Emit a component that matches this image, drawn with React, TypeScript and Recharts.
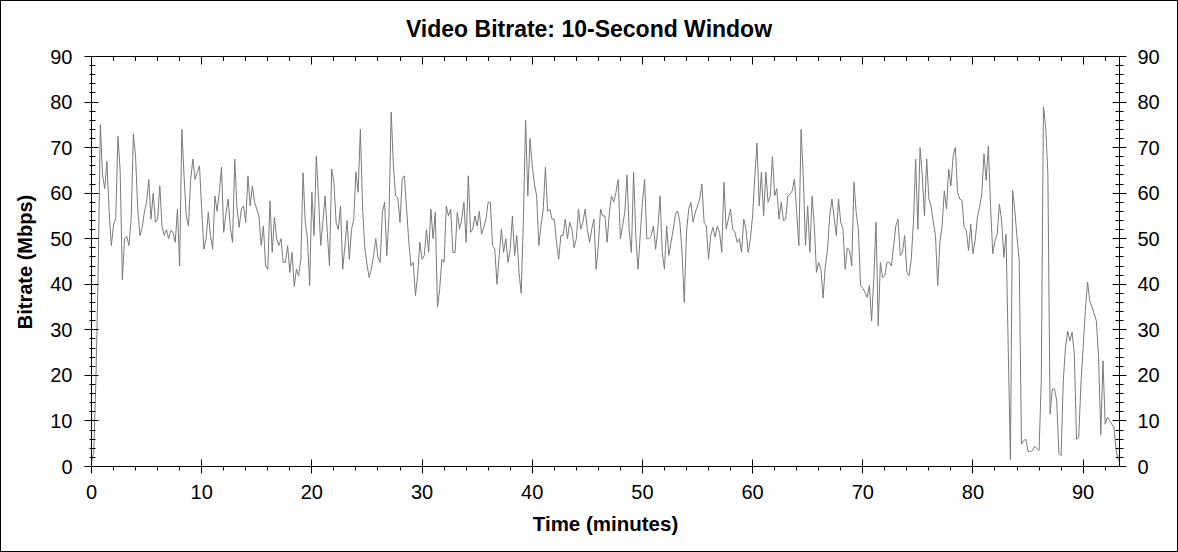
import React from 'react';
import { LineChart, Line, XAxis, YAxis } from 'recharts';

// Sampling step of the bitrate trace (minutes)
const STEP_MIN = 0.2;

// Bitrate (Mbps), one value every 0.2 min
const SEG_00_10 = [
  1, 3, 19, 42, 75, 64, 61, 67, 56, 48.5,
  53, 54.5, 72.5, 65, 41, 50, 50.5, 48.5, 54.3, 73,
  68, 56.5, 50.7, 52.5, 55.8, 58, 63, 54.3, 60, 53.6,
  54.3, 61.6, 52.8, 50.7, 52, 50, 51.8, 51.4, 49.2, 56.5,
  44, 74, 63.8, 55, 52.8, 63, 67.5, 63, 64.6, 66,
];
const SEG_10_20 = [
  56.5, 47.7, 50, 55.8, 50.7, 47.7, 59.4, 56, 60.2, 65.7,
  51.4, 55.4, 58.7, 52.5, 49.2, 67.5, 56.9, 52.5, 56.5, 57.2,
  53.6, 63.8, 57.2, 61.6, 58, 56.5, 55, 48.5, 52.8, 44,
  43.3, 58.3, 47, 54.7, 50, 48.5, 50, 44.8, 44.8, 48.5,
  42.6, 47, 39.5, 43.3, 41.9, 45.5, 64.5, 53.6, 50, 39.7,
];
const SEG_20_30 = [
  60.2, 50.7, 68.2, 59.4, 48.5, 53.6, 59.4, 51.4, 44, 65.3,
  62.4, 53.6, 52, 57.2, 43.3, 48.5, 54, 45.5, 52, 54.3,
  64.6, 60.2, 74, 57.2, 48, 44.4, 41.5, 43.3, 46.3, 50,
  45.9, 44.8, 55.8, 58, 46.3, 55, 77.8, 66, 59.4, 59,
  53.6, 63.1, 63.8, 56.5, 49.2, 44, 44.8, 37.5, 41.9, 49.2,
];
const SEG_30_40 = [
  45.5, 46.3, 52, 47, 56.5, 50, 55.8, 35, 38.9, 45.5,
  44.8, 57.2, 55, 56.5, 47, 47, 55.8, 52.1, 54.3, 58,
  49.2, 63.8, 51.4, 52.1, 55, 52.8, 56, 51, 52.5, 54.3,
  58, 58, 48.5, 47.7, 40, 46.3, 52.1, 47, 50, 44.8,
  47.7, 55, 46.3, 50.7, 42.6, 38, 54.3, 76, 59.4, 72,
];
const SEG_40_50 = [
  66, 62, 59.4, 48.5, 52.8, 56.5, 65.7, 56, 56.5, 54.3,
  54.3, 49.2, 45.5, 50.7, 50.7, 54.3, 50, 53.6, 52.1, 48,
  50, 56.5, 52.1, 53.6, 56.5, 52.1, 49.2, 52.1, 54.3, 43.3,
  48.5, 56.5, 55, 55, 49.2, 55.8, 59.4, 58, 60.2, 63,
  50, 52.8, 55.8, 64, 51.8, 47, 64.6, 50.7, 43.3, 50.7,
];
const SEG_50_60 = [
  58, 63, 50, 50, 50.7, 52.8, 47.7, 52.1, 59.4, 47,
  43.3, 52.8, 46.3, 49.2, 52.1, 55.4, 56.1, 53.6, 47, 36,
  51.4, 56.5, 58, 53.6, 55.8, 57.2, 58.7, 62, 53.6, 52.8,
  45.5, 50.7, 52.5, 50.3, 52.8, 51.4, 47, 62.4, 52.1, 54.3,
  56.5, 52.1, 51.4, 49.2, 50, 47, 54.3, 52.1, 47, 50,
];
const SEG_60_70 = [
  55, 63.8, 71, 57.2, 64.6, 55, 64.6, 58, 59.4, 68,
  59.4, 61, 54.3, 58, 54, 54.3, 59.4, 59.8, 60.5, 63.1,
  55.8, 48.5, 74, 63.8, 48.5, 57.2, 47, 59.4, 52.8, 42.6,
  44.8, 43.3, 37, 44, 47.7, 55, 58.7, 54.7, 50.7, 58.7,
  53.6, 52.1, 43.3, 48, 47.4, 44, 62.4, 55.8, 52.1, 39.7,
];
const SEG_70_80 = [
  39.1, 38.2, 37.1, 39.8, 32, 41.1, 53.6, 30.9, 44.8, 41.5,
  41.9, 44.8, 44.8, 44, 48.5, 52.8, 54.3, 46.3, 47, 50.7,
  42.6, 41.9, 45.5, 53.6, 67.5, 52.1, 70, 63.8, 55, 67.5,
  58.7, 57.2, 53.6, 50.7, 39.7, 49.2, 52.8, 60.5, 56.5, 65.3,
  61.6, 68.2, 70, 60.2, 58.7, 58.4, 52.5, 51.8, 47.4, 53.2,
];
const SEG_80_90 = [
  46.7, 49.6, 54.7, 56.9, 59.8, 68.6, 62.8, 70.4, 56.9, 46.7,
  49.6, 51, 57.6, 54, 45.9, 51, 26.2, 1.5, 60.6, 56.2,
  50.3, 45.2, 4.9, 5.7, 6, 3.3, 3.3, 3.5, 4.4, 4,
  3.5, 18.9, 79, 74.5, 64.2, 11.5, 17, 17, 14.5, 2.9,
  2.4, 18.9, 26.2, 29.7, 27.6, 29.5, 24.7, 6, 6.4, 18.1,
];
const SEG_90_END = [
  26.2, 34.2, 40.5, 36.4, 35, 33.5, 32, 24, 7, 23.2,
  9.3, 10.8, 10.1, 9.3, 8.6, 3.5, 1.3,
];

const X_TICKS = [0, 2, 4, 6, 8, 10, 12, 14, 16, 18, 20, 22, 24, 26, 28, 30, 32, 34, 36, 38, 40, 42, 44, 46, 48, 50, 52, 54, 56, 58, 60, 62, 64, 66, 68, 70, 72, 74, 76, 78, 80, 82, 84, 86, 88, 90, 92];
const X_MAJOR = [0, 10, 20, 30, 40, 50, 60, 70, 80, 90];
const Y_TICKS = [0, 2, 4, 6, 8, 10, 12, 14, 16, 18, 20, 22, 24, 26, 28, 30, 32, 34, 36, 38, 40, 42, 44, 46, 48, 50, 52, 54, 56, 58, 60, 62, 64, 66, 68, 70, 72, 74, 76, 78, 80, 82, 84, 86, 88, 90];
const Y_MAJOR = [0, 10, 20, 30, 40, 50, 60, 70, 80, 90];
const X_DOMAIN: [number, number] = [0, 93.3];
const Y_DOMAIN: [number, number] = [0, 90];

const TITLE = 'Video Bitrate: 10-Second Window';
const X_LABEL = 'Time (minutes)';
const Y_LABEL = 'Bitrate (Mbps)';

const VALUES = [
  ...SEG_00_10, ...SEG_10_20, ...SEG_20_30, ...SEG_30_40, ...SEG_40_50,
  ...SEG_50_60, ...SEG_60_70, ...SEG_70_80, ...SEG_80_90, ...SEG_90_END,
];
const data = VALUES.map((v, i) => ({ t: Math.round(i * STEP_MIN * 10) / 10, v }));

const FONT = '"Liberation Sans", Arial, Helvetica, sans-serif';
const crisp = (n: number) => Math.round(n - 0.5) + 0.5;

const BottomTick = (props: any) => {
  const { x, y, payload } = props;
  const major = X_MAJOR.includes(payload.value);
  const cx = crisp(x);
  return (
    <g>
      <line x1={cx} x2={cx} y1={major ? y - 7 : y} y2={major ? y + 7 : y + 4} stroke="#000" strokeWidth={1} />
      {major && (
        <text x={x} y={y + 32.5} textAnchor="middle" fontFamily={FONT} fontSize={20} fill="#000">
          {payload.value}
        </text>
      )}
    </g>
  );
};

const TopTick = (props: any) => {
  const { x, y, payload } = props;
  const major = X_MAJOR.includes(payload.value);
  const cx = crisp(x);
  return <line x1={cx} x2={cx} y1={y} y2={major ? y + 8 : y + 4.5} stroke="#000" strokeWidth={1} />;
};

const LeftTick = (props: any) => {
  const { x, y, payload } = props;
  const major = Y_MAJOR.includes(payload.value);
  const cy = crisp(y);
  return (
    <g>
      <line x1={major ? x - 7 : x - 2} x2={major ? x + 7 : x + 4} y1={cy} y2={cy} stroke="#000" strokeWidth={1} />
      {major && (
        <text x={x - 19} y={y + 7} textAnchor="end" fontFamily={FONT} fontSize={20} fill="#000">
          {payload.value}
        </text>
      )}
    </g>
  );
};

const RightTick = (props: any) => {
  const { x, y, payload } = props;
  const major = Y_MAJOR.includes(payload.value);
  const cy = crisp(y);
  return (
    <g>
      <line x1={major ? x - 7 : x - 4} x2={major ? x + 7 : x + 4} y1={cy} y2={cy} stroke="#000" strokeWidth={1} />
      {major && (
        <text x={x + 18} y={y + 7} textAnchor="start" fontFamily={FONT} fontSize={20} fill="#000">
          {payload.value}
        </text>
      )}
    </g>
  );
};

export default function App() {
  return (
    <div style={{ position: 'relative', width: 1178, height: 552, background: '#fff', overflow: 'hidden' }}>
      <style>{'html,body{margin:0;padding:0;background:#fff}'}</style>
      <div style={{ position: 'absolute', left: 0, top: 0 }}>
        <LineChart
          width={1178}
          height={552}
          data={data}
          margin={{ top: 46.5, right: 8.5, bottom: 45.5, left: 31.5 }}
        >
          <XAxis
            xAxisId="b"
            dataKey="t"
            type="number"
            domain={X_DOMAIN}
            ticks={X_TICKS}
            interval={0}
            tickSize={0}
            tickMargin={0}
            tickLine={false}
            axisLine={{ stroke: '#000', strokeWidth: 1 }}
            tick={BottomTick}
            height={40}
            allowDataOverflow
          />
          <XAxis
            xAxisId="t"
            orientation="top"
            dataKey="t"
            type="number"
            domain={X_DOMAIN}
            ticks={X_TICKS}
            interval={0}
            tickSize={0}
            tickMargin={0}
            tickLine={false}
            axisLine={{ stroke: '#000', strokeWidth: 1 }}
            tick={TopTick}
            height={10}
            allowDataOverflow
          />
          <YAxis
            yAxisId="l"
            type="number"
            domain={Y_DOMAIN}
            ticks={Y_TICKS}
            interval={0}
            tickSize={0}
            tickMargin={0}
            tickLine={false}
            axisLine={{ stroke: '#000', strokeWidth: 1 }}
            tick={LeftTick}
            width={60}
            allowDataOverflow
          />
          <YAxis
            yAxisId="r"
            orientation="right"
            type="number"
            domain={Y_DOMAIN}
            ticks={Y_TICKS}
            interval={0}
            tickSize={0}
            tickMargin={0}
            tickLine={false}
            axisLine={{ stroke: '#000', strokeWidth: 1 }}
            tick={RightTick}
            width={50}
            allowDataOverflow
          />
          <Line
            xAxisId="b"
            yAxisId="l"
            type="linear"
            dataKey="v"
            stroke="#7a7a7a"
            strokeWidth={1}
            dot={false}
            activeDot={false}
            isAnimationActive={false}
          />
        </LineChart>
      </div>
      <svg
        width={1178}
        height={552}
        style={{ position: 'absolute', left: 0, top: 0, pointerEvents: 'none' }}
      >
        <text x={589} y={36.5} textAnchor="middle" fontFamily={FONT} fontSize={23} fontWeight="bold" fill="#000">
          {TITLE}
        </text>
        <text x={605.5} y={531} textAnchor="middle" fontFamily={FONT} fontSize={20.5} fontWeight="bold" fill="#000">
          {X_LABEL}
        </text>
        <text
          x={0}
          y={0}
          transform="translate(32,262) rotate(-90)"
          textAnchor="middle"
          fontFamily={FONT}
          fontSize={20}
          fontWeight="bold"
          fill="#000"
        >
          {Y_LABEL}
        </text>
      </svg>
      <div
        style={{
          position: 'absolute',
          left: 0,
          top: 0,
          width: 1178,
          height: 552,
          boxSizing: 'border-box',
          border: '1px solid #000',
          pointerEvents: 'none',
        }}
      />
    </div>
  );
}
